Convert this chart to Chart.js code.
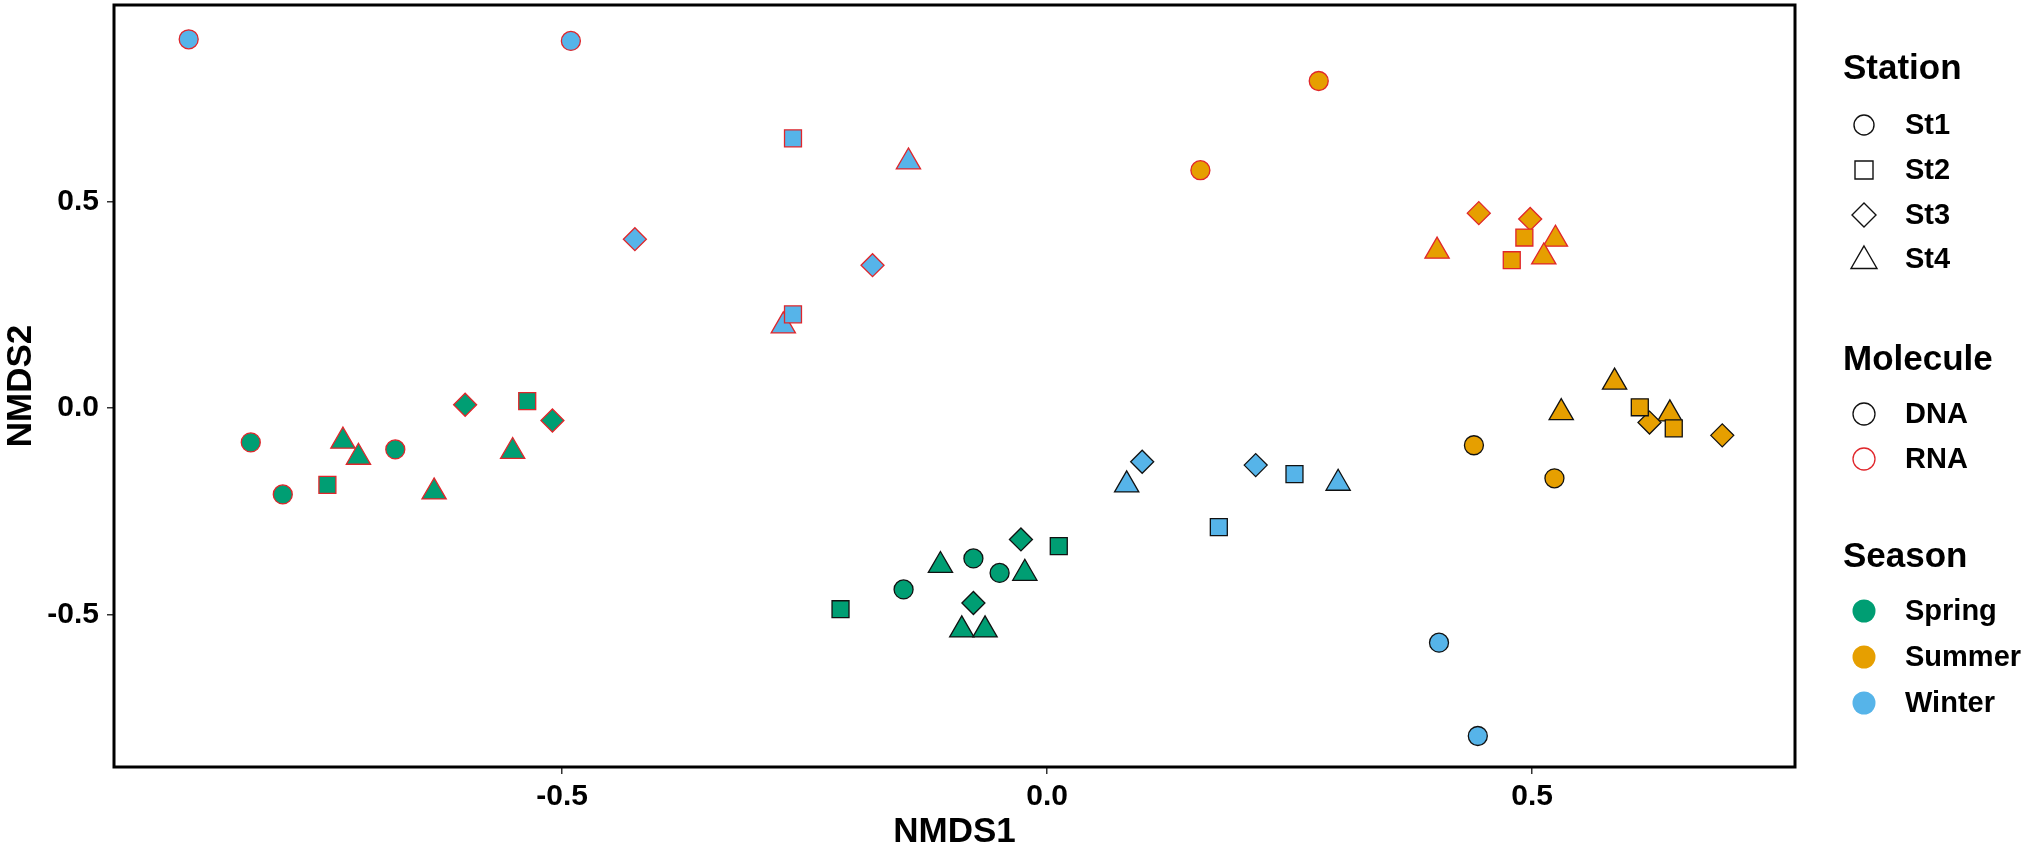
<!DOCTYPE html>
<html>
<head>
<meta charset="utf-8">
<title>NMDS</title>
<script src="https://cdn.jsdelivr.net/npm/chart.js@4.4.1/dist/chart.umd.min.js"></script>
<style>
  html, body { margin: 0; padding: 0; background: #fff; }
  #wrap { width: 2032px; height: 850px; position: relative; }
</style>
</head>
<body>
<div id="wrap"><canvas id="nmdsChart"></canvas></div>
<script>
// categories
const stations = ['St1', 'St2', 'St3', 'St4'];
const molecules = ['DNA', 'RNA'];
const seasons = ['Spring', 'Summer', 'Winter'];

// samples
const sampleSeason = [
  'Spring', 'Spring', 'Spring', 'Spring', 'Spring', 'Spring', 'Spring', 'Spring', 'Spring', 'Spring', 'Spring',
  'Spring', 'Spring', 'Spring', 'Spring', 'Spring', 'Spring', 'Spring', 'Spring', 'Spring', 'Spring', 'Spring',
  'Summer', 'Summer', 'Summer', 'Summer', 'Summer', 'Summer', 'Summer', 'Summer', 'Summer',
  'Summer', 'Summer', 'Summer', 'Summer', 'Summer', 'Summer', 'Summer', 'Summer', 'Summer',
  'Winter', 'Winter', 'Winter', 'Winter', 'Winter', 'Winter', 'Winter', 'Winter',
  'Winter', 'Winter', 'Winter', 'Winter', 'Winter', 'Winter', 'Winter', 'Winter'
];
const sampleMolecule = [
  'RNA', 'RNA', 'RNA', 'RNA', 'RNA', 'RNA', 'RNA', 'RNA', 'RNA', 'RNA', 'RNA',
  'DNA', 'DNA', 'DNA', 'DNA', 'DNA', 'DNA', 'DNA', 'DNA', 'DNA', 'DNA', 'DNA',
  'RNA', 'RNA', 'RNA', 'RNA', 'RNA', 'RNA', 'RNA', 'RNA', 'RNA',
  'DNA', 'DNA', 'DNA', 'DNA', 'DNA', 'DNA', 'DNA', 'DNA', 'DNA',
  'RNA', 'RNA', 'RNA', 'RNA', 'RNA', 'RNA', 'RNA', 'RNA',
  'DNA', 'DNA', 'DNA', 'DNA', 'DNA', 'DNA', 'DNA', 'DNA'
];
const sampleStation = [
  'St1', 'St1', 'St1', 'St2', 'St2', 'St3', 'St3', 'St4', 'St4', 'St4', 'St4',
  'St1', 'St1', 'St1', 'St2', 'St2', 'St3', 'St3', 'St4', 'St4', 'St4', 'St4',
  'St1', 'St1', 'St2', 'St2', 'St3', 'St3', 'St4', 'St4', 'St4',
  'St1', 'St1', 'St2', 'St2', 'St3', 'St3', 'St4', 'St4', 'St4',
  'St1', 'St1', 'St2', 'St2', 'St3', 'St3', 'St4', 'St4',
  'St1', 'St1', 'St2', 'St2', 'St3', 'St3', 'St4', 'St4'
];
const nmds1 = [
  -0.821, -0.788, -0.672, -0.742, -0.536, -0.600, -0.510, -0.726, -0.710, -0.551, -0.632,
  -0.076, -0.049, -0.148, 0.012, -0.213, -0.027, -0.076, -0.110, -0.023, -0.088, -0.064,
  0.280, 0.158, 0.492, 0.479, 0.445, 0.498, 0.524, 0.402, 0.512,
  0.440, 0.523, 0.611, 0.646, 0.621, 0.696, 0.530, 0.585, 0.642,
  -0.885, -0.491, -0.262, -0.262, -0.425, -0.180, -0.143, -0.272,
  0.404, 0.444, 0.255, 0.177, 0.098, 0.215, 0.082, 0.300
];
const nmds2 = [
  -0.083, -0.209, -0.100, -0.186, 0.017, 0.008, -0.030, -0.080, -0.119, -0.105, -0.203,
  -0.364, -0.399, -0.439, -0.334, -0.487, -0.318, -0.472, -0.381, -0.400, -0.537, -0.537,
  0.792, 0.576, 0.413, 0.358, 0.472, 0.458, 0.409, 0.380, 0.366,
  -0.090, -0.170, 0.002, -0.049, -0.035, -0.066, -0.011, 0.063, -0.014,
  0.893, 0.889, 0.653, 0.227, 0.409, 0.346, 0.596, 0.199,
  -0.568, -0.794, -0.160, -0.288, -0.130, -0.138, -0.186, -0.182
];

// axis ticks
const xTicks = [-0.5, 0.0, 0.5];
const yTicks = [-0.5, 0.0, 0.5];

// styles
const seasonColors = { Spring: '#009E73', Summer: '#E69F00', Winter: '#56B4E9' };
const moleculeBorders = { DNA: '#111111', RNA: '#e0262b' };
const stationStyles = {
  St1: { style: 'circle', radius: 9.5 },
  St2: { style: 'rect', radius: 12 },
  St3: { style: 'rectRot', radius: 11.5 },
  St4: { style: 'triangle', radius: 14 }
};
const FONT = "'Liberation Sans', Arial, Helvetica, sans-serif";

// one dataset per season x molecule x station
const datasets = [];
seasons.forEach(season => {
  molecules.forEach(mol => {
    stations.forEach(st => {
      const pts = [];
      for (let i = 0; i < nmds1.length; i++) {
        if (sampleSeason[i] === season && sampleMolecule[i] === mol && sampleStation[i] === st) {
          pts.push({ x: nmds1[i], y: nmds2[i] });
        }
      }
      if (!pts.length) return;
      datasets.push({
        label: season + ' ' + mol + ' ' + st,
        data: pts,
        pointStyle: stationStyles[st].style,
        pointRadius: stationStyles[st].radius,
        pointBackgroundColor: seasonColors[season],
        pointBorderColor: moleculeBorders[mol],
        pointBorderWidth: 1.3,
        showLine: false
      });
    });
  });
});

// frame around the panel
const framePlugin = {
  id: 'frame',
  afterDatasetsDraw(chart) {
    const { ctx, chartArea: a } = chart;
    ctx.save();
    ctx.strokeStyle = '#000';
    ctx.lineWidth = 3;
    ctx.strokeRect(a.left, a.top, a.right - a.left, a.bottom - a.top);
    ctx.restore();
  }
};

function drawShape(ctx, style, x, y, r) {
  ctx.beginPath();
  if (style === 'circle') {
    ctx.arc(x, y, r, 0, Math.PI * 2);
  } else if (style === 'rect') {
    ctx.rect(x - r, y - r, 2 * r, 2 * r);
  } else if (style === 'rectRot') {
    ctx.moveTo(x, y - r); ctx.lineTo(x + r, y); ctx.lineTo(x, y + r); ctx.lineTo(x - r, y);
    ctx.closePath();
  } else if (style === 'triangle') {
    ctx.moveTo(x, y - r);
    ctx.lineTo(x + r * 0.866, y + r * 0.5);
    ctx.lineTo(x - r * 0.866, y + r * 0.5);
    ctx.closePath();
  }
}

// legend in three groups, like ggplot
const legendPlugin = {
  id: 'groupLegend',
  afterDraw(chart) {
    const ctx = chart.ctx;
    const titleX = 1843, symX = 1864, textX = 1905;
    ctx.save();
    ctx.textBaseline = 'middle';
    ctx.textAlign = 'left';
    ctx.fillStyle = '#000';

    ctx.font = 'bold 35px ' + FONT;
    ctx.fillText('Station', titleX, 69);
    ctx.fillText('Molecule', titleX, 360);
    ctx.fillText('Season', titleX, 557);

    ctx.font = 'bold 29px ' + FONT;
    const stSize = { St1: 10, St2: 9, St3: 12, St4: 15 };
    const stY = [125, 170, 215, 259];
    stations.forEach((st, i) => {
      ctx.lineWidth = 1.4;
      ctx.strokeStyle = '#111';
      drawShape(ctx, stationStyles[st].style, symX, stY[i] + (st === 'St4' ? 2 : 0), stSize[st]);
      ctx.stroke();
      ctx.fillText(st, textX, stY[i] + 1);
    });

    const molY = [414, 459];
    molecules.forEach((m, i) => {
      ctx.lineWidth = 1.3;
      ctx.strokeStyle = moleculeBorders[m];
      drawShape(ctx, 'circle', symX, molY[i], 11);
      ctx.stroke();
      ctx.fillText(m, textX, molY[i] + 1);
    });

    const seaY = [611, 657, 703];
    seasons.forEach((s, i) => {
      ctx.fillStyle = seasonColors[s];
      drawShape(ctx, 'circle', symX, seaY[i], 11.5);
      ctx.fill();
      ctx.fillStyle = '#000';
      ctx.fillText(s, textX, seaY[i] + 1);
    });
    ctx.restore();
  }
};

// keep the panel edges fixed: no extra room for edge tick labels
function noPad(scale) {
  scale.paddingTop = 0;
  scale.paddingBottom = 0;
  scale.paddingLeft = 0;
  scale.paddingRight = 0;
}

new Chart(document.getElementById('nmdsChart'), {
  type: 'scatter',
  data: { datasets },
  options: {
    responsive: true,
    maintainAspectRatio: false,
    animation: false,
    events: [],
    layout: { autoPadding: false, padding: { left: 0, right: 237, top: 5, bottom: 0 } },
    plugins: {
      legend: { display: false },
      tooltip: { enabled: false }
    },
    scales: {
      x: {
        type: 'linear',
        min: -0.962,
        max: 0.771,
        afterBuildTicks: scale => { scale.ticks = xTicks.map(v => ({ value: v })); },
        afterFit: scale => { scale.height = 83; noPad(scale); },
        border: { display: false },
        grid: { display: true, drawOnChartArea: false, drawTicks: true, tickLength: 7, color: '#333', lineWidth: 1.5 },
        ticks: {
          color: '#000',
          padding: 5,
          maxRotation: 0,
          font: { family: FONT, size: 30, weight: 'bold' },
          callback: v => Number(v).toFixed(1)
        },
        title: {
          display: true,
          text: 'NMDS1',
          color: '#000',
          padding: { top: 0, bottom: 0 },
          font: { family: FONT, size: 35, weight: 'bold', lineHeight: 1 }
        }
      },
      y: {
        type: 'linear',
        min: -0.869,
        max: 0.976,
        afterBuildTicks: scale => { scale.ticks = yTicks.map(v => ({ value: v })); },
        afterFit: scale => { scale.width = 114; noPad(scale); },
        border: { display: false },
        grid: { display: true, drawOnChartArea: false, drawTicks: true, tickLength: 7, color: '#333', lineWidth: 1.5 },
        ticks: {
          color: '#000',
          padding: 8,
          font: { family: FONT, size: 30, weight: 'bold' },
          callback: v => Number(v).toFixed(1)
        },
        title: {
          display: true,
          text: 'NMDS2',
          color: '#000',
          padding: { top: 0, bottom: 0 },
          font: { family: FONT, size: 35, weight: 'bold', lineHeight: 1.2 }
        }
      }
    }
  },
  plugins: [framePlugin, legendPlugin]
});
</script>
</body>
</html>
